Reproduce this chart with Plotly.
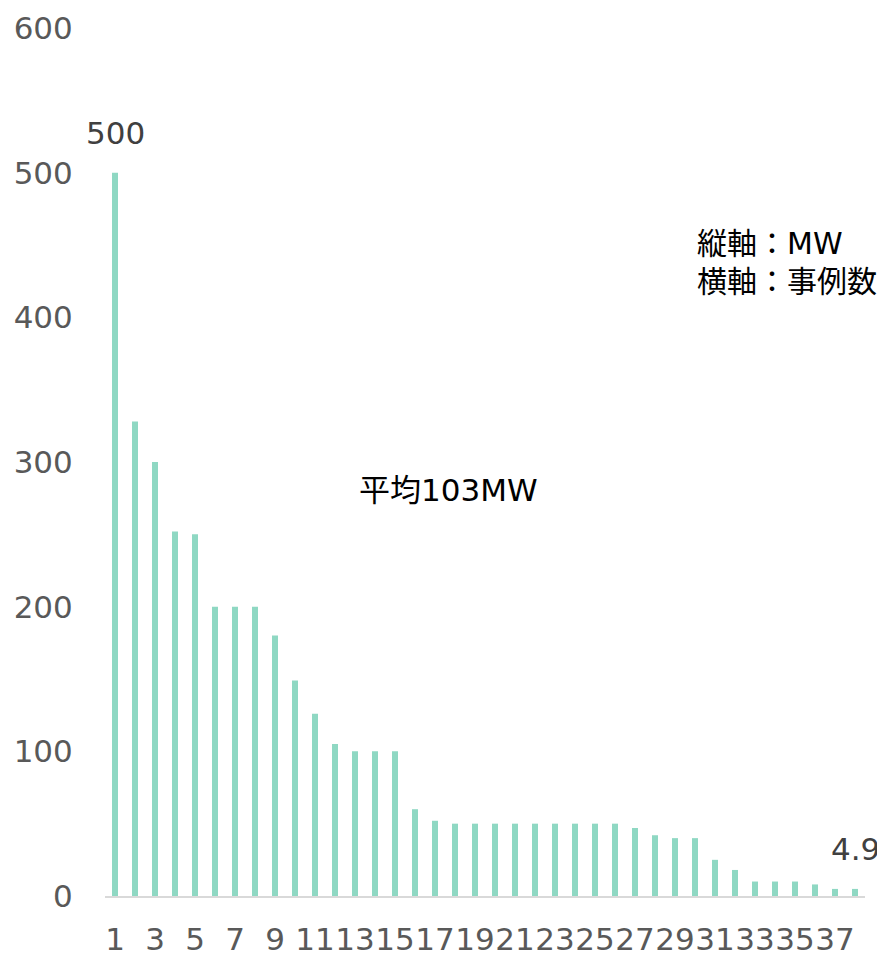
import plotly.graph_objects as go

cases = list(range(1, 39))
values = [500, 328, 300, 252, 250, 200, 200, 200, 180, 149,
          126, 105, 100, 100, 100, 60, 52, 50, 50, 50,
          50, 50, 50, 50, 50, 50, 47, 42, 40, 40,
          25, 18, 10, 10, 10, 8, 4.9, 4.9]
y_ticks = [0, 100, 200, 300, 400, 500, 600]
note_avg = "平均103MW"
note_axes_v = "縦軸：MW"
note_axes_h = "横軸：事例数"

BAR_COLOR = "#8fd8c3"
TICK_COLOR = "#595959"
LABEL_FONT = "DejaVu Sans"
TEXT_FONT = "DejaVu Sans, Noto Sans CJK JP"

fig = go.Figure()
fig.add_trace(go.Bar(x=cases, y=values, marker=dict(color=BAR_COLOR, line=dict(width=0)),
                     width=0.3, hoverinfo="skip"))

for idx in (0, len(values) - 1):
    fig.add_annotation(x=cases[idx], y=values[idx], xref="x", yref="y",
                       text=str(values[idx]), showarrow=False, yanchor="bottom",
                       yshift=20, font=dict(family=LABEL_FONT, size=31, color="#404040"))

fig.add_annotation(x=0.452, y=0.468, xref="paper", yref="paper", text=note_avg,
                   showarrow=False, xanchor="center", yanchor="middle",
                   font=dict(family=TEXT_FONT, size=31, color="#000000"))
fig.add_annotation(x=0.776, y=0.752, xref="paper", yref="paper", text=note_axes_v,
                   showarrow=False, xanchor="left", yanchor="middle", align="left",
                   font=dict(family=TEXT_FONT, size=30, color="#000000"))
fig.add_annotation(x=0.776, y=0.708, xref="paper", yref="paper", text=note_axes_h,
                   showarrow=False, xanchor="left", yanchor="middle", align="left",
                   font=dict(family=TEXT_FONT, size=30, color="#000000"))

fig.update_layout(
    width=877, height=955,
    margin=dict(l=97, r=20, t=20, b=67),
    paper_bgcolor="white", plot_bgcolor="white",
    showlegend=False, bargap=0.7,
    xaxis=dict(range=[0.5, 38.5], tickmode="linear", tick0=1, dtick=2, tickangle=0,
               automargin=False,
               showgrid=False, zeroline=False, showline=True, linecolor="#d9d9d9", linewidth=2,
               ticks="outside", ticklen=15, tickcolor="rgba(0,0,0,0)",
               tickfont=dict(family=LABEL_FONT, size=31, color=TICK_COLOR)),
    yaxis=dict(range=[0, 600], tickvals=y_ticks, showgrid=False, zeroline=False, showline=False,
               automargin=False,
               ticks="outside", ticklen=25, tickcolor="rgba(0,0,0,0)",
               tickfont=dict(family=LABEL_FONT, size=31, color=TICK_COLOR)),
)

fig.write_html("out.html")
